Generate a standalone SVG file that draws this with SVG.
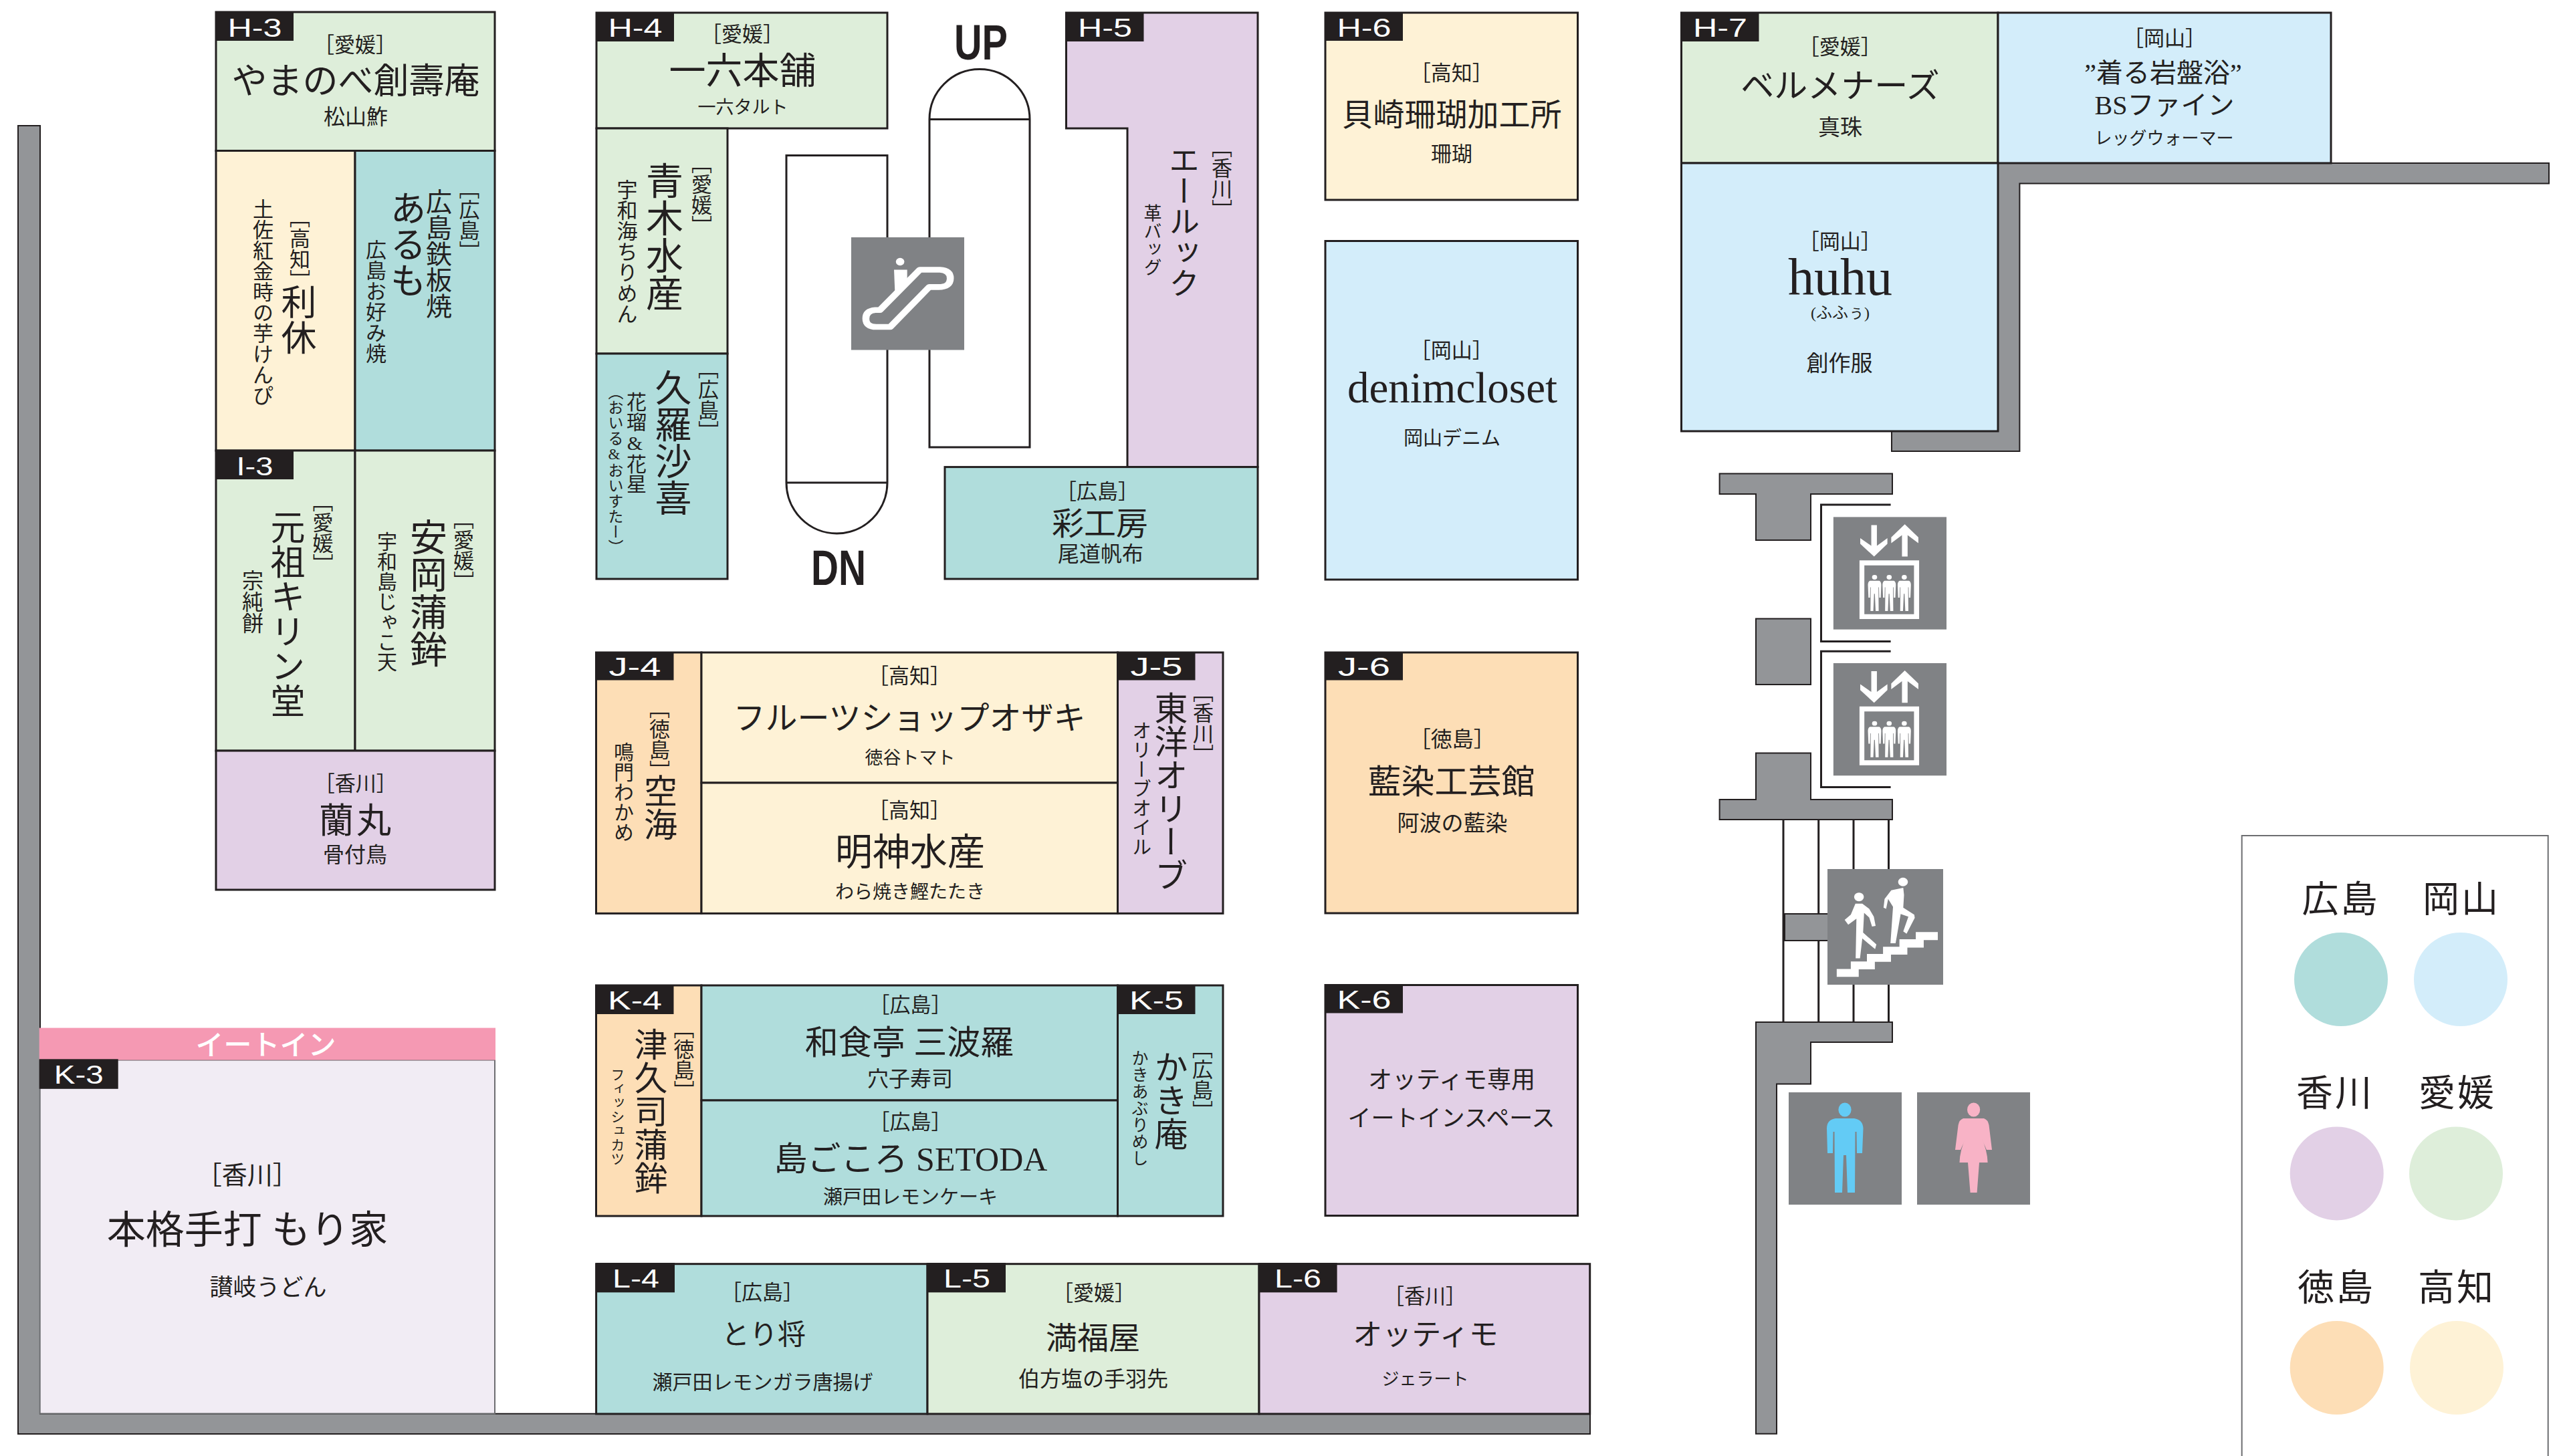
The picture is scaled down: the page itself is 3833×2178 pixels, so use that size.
<svg xmlns="http://www.w3.org/2000/svg" width="3833" height="2178" viewBox="0 0 3833 2178">
<style>
text{font-family:"Liberation Serif","Noto Sans CJK JP",serif;text-anchor:middle;fill:#231f20}
.v{writing-mode:vertical-rl}
.u{text-orientation:upright}
.lab{font-family:"Liberation Sans",Arial,sans-serif;font-size:38px;fill:#fff}
.hd{font-family:"Liberation Sans",Arial,sans-serif;font-weight:700;font-size:74px}
.eat{font-family:"Noto Sans CJK JP",sans-serif;font-weight:500;font-size:42px;fill:#fff}
.leg{font-size:55px;letter-spacing:3px}
.lb{fill:#231f20}
.b{stroke:#231f20;stroke-width:3}
.w{fill:#939598;stroke:#231f20;stroke-width:2}
.e{fill:#fff;stroke:#231f20;stroke-width:3}
.sg{fill:#808285}
.wh{fill:#fff}
.hi{fill:#b0dddc}.ok{fill:#d3edfa}.ka{fill:#e2d0e6}.eh{fill:#deeeda}.to{fill:#fddeb6}.ko{fill:#fef2d6}
.s21{font-size:21px}.s23{font-size:23px}.s24{font-size:24px}.s25{font-size:25px}.s26{font-size:26px}.s27{font-size:27px}.s28{font-size:28px}.s29{font-size:29px}.s30{font-size:30px}.s31{font-size:31px}.s32{font-size:32px}.s33{font-size:33px}.s35{font-size:35px}.s36{font-size:36px}.s38{font-size:38px}.s39{font-size:39px}.s40{font-size:40px}.s42{font-size:42px}.s44{font-size:44px}.s46{font-size:46px}.s47{font-size:47px}.s48{font-size:48px}.s50{font-size:50px}.s52{font-size:52px}.s53{font-size:53px}.s54{font-size:54px}.s55{font-size:55px}.s56{font-size:56px}.s58{font-size:58px}.s65{font-size:65px}.s78{font-size:78px}
</style>
<defs>
<path id="p" class="wh" d="M775 381H811Q819 383 819 392L817 425H811L810 398H808L809 460H797L794 415H791L788 460H777L778 398H776L775 425H769L767 392Q767 383 775 381ZM783 372a10 6 0 1 0 20 0a10 6 0 1 0 -20 0Z"/>
<g id="elev" transform="translate(2500 650) scale(.3827 .574)">
<rect class="sg" x="632" y="215" width="442" height="293"/>
<polygon class="wh" points="780,236 802,236 802,290 843,270 843,285 791,318 737,285 737,270 780,290"/>
<polygon class="wh" points="911,234 964,268 964,283 922,262 922,318 900,318 900,262 858,283 858,268"/>
<path class="wh" fill-rule="evenodd" d="M734 328H967V481H734ZM753 341V468H947V341Z"/>
<use href="#p"/><use href="#p" x="57"/><use href="#p" x="116"/>
</g>
</defs>
<rect width="3833" height="2178" fill="#fff"/>

<g id="walls">
<path class="w" d="M27 188H60V2114.8H2378V2145H27Z"/>
<path class="w" d="M2988 244H3812V274.5H3020.4V675H2829V645H2988Z"/>
<path class="w" d="M2571.6 708.5H2830V739H2708V808H2626V739H2571.6Z"/>
<rect class="w" x="2626" y="925.5" width="82" height="98.5"/>
<path class="w" d="M2626 1126.5H2708V1196H2830V1226H2571.6V1196H2626Z"/>
<path class="w" d="M2626 1529H2830V1559H2708V1621.6H2657V2144.7H2626Z"/>
</g>

<g id="connectors" fill="none" stroke="#231f20" stroke-width="3">
<path d="M2827.6 755H2723.5V959.4H2827.6"/>
<path d="M2827.6 974.3H2723.5V1177.5H2827.6"/>
<path d="M2667 1226V1529M2719.7 1226V1529M2772 1226V1529M2824.5 1226V1529"/>
</g>

<g id="escalators">
<path class="e" d="M1390 178.5A75 75 0 0 1 1540 178.5V669H1390ZM1390 178.5H1540"/>
<path class="e" d="M1176 232.5H1327V722A75.5 76 0 0 1 1176 722ZM1176 722H1327"/>
<text class="hd" x="1467" y="89" textLength="80" lengthAdjust="spacingAndGlyphs">UP</text>
<text class="hd" x="1254" y="875" textLength="82" lengthAdjust="spacingAndGlyphs">DN</text>
<rect class="sg" x="1273" y="355" width="169" height="168.5"/>
<g transform="translate(860 0) scale(.7015 .574)">
<path fill="none" stroke="#fff" stroke-width="15" stroke-linejoin="round" d="M650 808H640Q620 810 620 830Q620 852 642 852H672L755 748H775Q800 748 800 725Q800 705 778 703H735Z"/>
<ellipse class="wh" cx="693" cy="682" rx="9" ry="10"/>
<polygon class="wh" points="680,703 708,703 708,735 692,762 682,762"/>
</g>
</g>

<g id="H-3">
<rect class="eh b" x="323" y="18" width="417" height="207.5"/>
<rect class="lb" x="323" y="18" width="116" height="43"/>
<text class="lab" x="381" y="54.5" textLength="81" lengthAdjust="spacingAndGlyphs">H-3</text>
<text class="s31" x="531" y="78">［愛媛］</text>
<text class="s53" x="532" y="140">やまのべ創壽庵</text>
<text class="s32" x="532" y="186">松山鮓</text>
</g>
<g id="rikyu">
<rect class="ko b" x="323" y="225.5" width="208" height="448.5"/>
<text class="s31 v" x="390.5" y="452">土佐紅金時の芋けんぴ</text>
<text class="s31 v" x="445.5" y="371.5">［高知］</text>
<text class="s53 v" x="442" y="478">利休</text>
</g>
<g id="arumo">
<rect class="hi b" x="531" y="225.5" width="209" height="448.5"/>
<text class="s54 v" x="605" y="365">あるも</text>
<text class="s39 v" x="653" y="379">広島鉄板焼</text>
<text class="s31 v" x="699" y="329">［広島］</text>
<text class="s31 v" x="559.5" y="451">広島お好み焼</text>
</g>
<g id="I-3">
<rect class="eh b" x="323" y="674" width="208" height="449"/>
<rect class="lb" x="323" y="675" width="116" height="42"/>
<text class="lab" x="381" y="711" textLength="55" lengthAdjust="spacingAndGlyphs">I-3</text>
<text class="s31 v" x="480" y="797">［愛媛］</text>
<text class="s52 v" x="425.5" y="918.5">元祖キリン堂</text>
<text class="s32 v" x="375" y="900">宗純餅</text>
</g>
<g id="yasuoka">
<rect class="eh b" x="531" y="674" width="209" height="449"/>
<text class="s31 v" x="690.5" y="823">［愛媛］</text>
<text class="s56 v" x="635.5" y="887">安岡蒲鉾</text>
<text class="s30 v" x="576.5" y="900">宇和島じゃこ天</text>
</g>
<g id="ranmaru">
<rect class="ka b" x="323" y="1123" width="417" height="208"/>
<text class="s31" x="531.7" y="1183">［香川］</text>
<text class="s52" x="533" y="1246" letter-spacing="4">蘭丸</text>
<text class="s32" x="531" y="1290">骨付鳥</text>
</g>

<g id="H-4">
<rect class="eh b" x="892" y="19" width="435" height="173"/>
<rect class="lb" x="892" y="19" width="116" height="43"/>
<text class="lab" x="950" y="55" textLength="81" lengthAdjust="spacingAndGlyphs">H-4</text>
<text class="s31" x="1110" y="62">［愛媛］</text>
<text class="s55" x="1110.5" y="125">一六本舗</text>
<text class="s27" x="1111" y="170">一六タルト</text>
</g>
<g id="aoki">
<rect class="eh b" x="892" y="192" width="196" height="337"/>
<text class="s56 v" x="988.5" y="353.5">青木水産</text>
<text class="s31 v" x="1046.5" y="291">［愛媛］</text>
<text class="s31 v" x="935" y="376">宇和海ちりめん</text>
</g>
<g id="kurasaki">
<rect class="hi b" x="892" y="529" width="196" height="337"/>
<text class="s55 v" x="1001.5" y="661.5">久羅沙喜</text>
<text class="s31 v" x="1056.5" y="598">［広島］</text>
<text class="s30 v u" x="949.5" y="662">花瑠&amp;花星</text>
<text class="s23 v u" x="918.5" y="702">（おいる&amp;おいすたー）</text>
</g>
<g id="H-5">
<path class="ka b" d="M1594.5 19H1881V698.6H1686V192H1594.5Z"/>
<rect class="lb" x="1594.5" y="19" width="116" height="43"/>
<text class="lab" x="1652.5" y="55" textLength="81" lengthAdjust="spacingAndGlyphs">H-5</text>
<text class="s46 v" x="1766.5" y="331">エールック</text>
<text class="s31 v" x="1824.5" y="267">［香川］</text>
<text class="s27 v" x="1721.5" y="359">革バッグ</text>
</g>
<g id="saikobo">
<rect class="hi b" x="1413" y="698.6" width="468" height="167.4"/>
<text class="s31" x="1641" y="746">［広島］</text>
<text class="s48" x="1645" y="800">彩工房</text>
<text class="s32" x="1646" y="840">尾道帆布</text>
</g>
<g id="H-6">
<rect class="ko b" x="1982" y="19" width="377.5" height="280"/>
<rect class="lb" x="1982" y="18.5" width="116" height="42.5"/>
<text class="lab" x="2040" y="54.5" textLength="81" lengthAdjust="spacingAndGlyphs">H-6</text>
<text class="s31" x="2170.7" y="120">［高知］</text>
<text class="s47" x="2171" y="188">貝崎珊瑚加工所</text>
<text class="s31" x="2171" y="241">珊瑚</text>
</g>
<g id="denimcloset">
<rect class="ok b" x="1982" y="360.5" width="377.5" height="506.5"/>
<text class="s31" x="2170.7" y="535">［岡山］</text>
<text class="s65" x="2172" y="602">denimcloset</text>
<text class="s29" x="2171.6" y="666">岡山デニム</text>
</g>
<g id="H-7">
<rect class="eh b" x="2514.5" y="19" width="473.5" height="225"/>
<rect class="lb" x="2514.5" y="19" width="116" height="43"/>
<text class="lab" x="2572.5" y="55" textLength="81" lengthAdjust="spacingAndGlyphs">H-7</text>
<text class="s31" x="2751.7" y="81">［愛媛］</text>
<text class="s50" x="2752" y="146">ベルメナーズ</text>
<text class="s33" x="2752" y="202">真珠</text>
</g>
<g id="bsfine">
<rect class="ok b" x="2988" y="19" width="498" height="225"/>
<text class="s31" x="3237" y="68">［岡山］</text>
<text class="s40" x="3235" y="123">”着る岩盤浴”</text>
<text class="s40" x="3237" y="171">BSファイン</text>
<text class="s26" x="3236.5" y="216">レッグウォーマー</text>
</g>
<g id="huhu">
<rect class="ok b" x="2514.5" y="244" width="473.5" height="401"/>
<text class="s31" x="2751.7" y="372">［岡山］</text>
<text class="s78" x="2752" y="441">huhu</text>
<text class="s24" x="2752" y="476">(ふふぅ)</text>
<text class="s33" x="2751" y="555">創作服</text>
</g>

<g id="J-4">
<rect class="to b" x="891.5" y="976" width="157.5" height="390.4"/>
<rect class="lb" x="891.5" y="976" width="116" height="41.5"/>
<text class="lab" x="949.5" y="1011" textLength="78" lengthAdjust="spacingAndGlyphs">J-4</text>
<text class="s31 v" x="983.5" y="1106">［徳島］</text>
<text class="s50 v" x="983" y="1208">空海</text>
<text class="s30 v" x="930.5" y="1185">鳴門わかめ</text>
</g>
<g id="ozaki">
<rect class="ko b" x="1049" y="976" width="622.5" height="195"/>
<text class="s31" x="1360" y="1022">［高知］</text>
<text class="s48" x="1360" y="1091">フルーツショップオザキ</text>
<text class="s27" x="1361" y="1143">徳谷トマト</text>
</g>
<g id="myojin">
<rect class="ko b" x="1049" y="1171" width="622.5" height="195.4"/>
<text class="s31" x="1360" y="1223">［高知］</text>
<text class="s56" x="1361" y="1294">明神水産</text>
<text class="s28" x="1361" y="1344">わら焼き鰹たたき</text>
</g>
<g id="J-5">
<rect class="ka b" x="1671.5" y="976" width="157.5" height="390.4"/>
<rect class="lb" x="1671.5" y="976" width="116" height="41.5"/>
<text class="lab" x="1729.5" y="1011" textLength="78" lengthAdjust="spacingAndGlyphs">J-5</text>
<text class="s50 v" x="1746.5" y="1184">東洋オリーブ</text>
<text class="s31 v" x="1796.5" y="1082">［香川］</text>
<text class="s29 v" x="1704.5" y="1180">オリーブオイル</text>
</g>
<g id="J-6">
<rect class="to b" x="1982" y="976" width="377.5" height="390"/>
<rect class="lb" x="1982" y="976" width="116" height="41.5"/>
<text class="lab" x="2040" y="1011" textLength="78" lengthAdjust="spacingAndGlyphs">J-6</text>
<text class="s32" x="2171.7" y="1117">［徳島］</text>
<text class="s50" x="2170.5" y="1187">藍染工芸館</text>
<text class="s33" x="2172" y="1243">阿波の藍染</text>
</g>

<g id="K-4">
<rect class="to b" x="891.5" y="1474" width="157.5" height="345"/>
<rect class="lb" x="891.5" y="1474" width="116" height="43"/>
<text class="lab" x="949.5" y="1510" textLength="81" lengthAdjust="spacingAndGlyphs">K-4</text>
<text class="s31 v" x="1020" y="1585">［徳島］</text>
<text class="s50 v" x="968.5" y="1662">津久司蒲鉾</text>
<text class="s21 v" x="921.7" y="1670">フィッシュカツ</text>
</g>
<g id="sanbara">
<rect class="hi b" x="1049" y="1474" width="622.5" height="172"/>
<text class="s31" x="1361.5" y="1514">［広島］</text>
<text class="s50" x="1360" y="1577">和食亭 三波羅</text>
<text class="s32" x="1361" y="1625">穴子寿司</text>
</g>
<g id="setoda">
<rect class="hi b" x="1049" y="1646" width="622.5" height="173"/>
<text class="s31" x="1361.5" y="1689">［広島］</text>
<text class="s50" x="1362" y="1751">島ごころ SETODA</text>
<text class="s29" x="1361.5" y="1801">瀬戸田レモンケーキ</text>
</g>
<g id="K-5">
<rect class="hi b" x="1671.5" y="1474" width="157.5" height="345"/>
<rect class="lb" x="1671.5" y="1474" width="116" height="43"/>
<text class="lab" x="1729.5" y="1510" textLength="81" lengthAdjust="spacingAndGlyphs">K-5</text>
<text class="s50 v" x="1746.5" y="1646">かき庵</text>
<text class="s31 v" x="1795.5" y="1615">［広島］</text>
<text class="s25 v" x="1702.5" y="1657">かきあぶりめし</text>
</g>
<g id="K-6">
<rect class="ka b" x="1982" y="1473.5" width="377.5" height="345"/>
<rect class="lb" x="1982" y="1473.5" width="116" height="42"/>
<text class="lab" x="2040" y="1509" textLength="81" lengthAdjust="spacingAndGlyphs">K-6</text>
<text class="s36" x="2171" y="1628">オッティモ専用</text>
<text class="s35" x="2170.5" y="1685">イートインスペース</text>
</g>
<g id="K-3">
<rect x="59.7" y="1585.6" width="680.3" height="529" fill="#f1ecf4" stroke="#6d6e71" stroke-width="2"/>
<rect x="58.7" y="1537.6" width="682.3" height="48" fill="#f599b3"/>
<text class="eat" x="397.5" y="1578">イートイン</text>
<rect class="lb" x="58.7" y="1584.3" width="118" height="44.5"/>
<text class="lab" x="117.7" y="1621" textLength="74" lengthAdjust="spacingAndGlyphs">K-3</text>
<text class="s38" x="369.7" y="1771">［香川］</text>
<text class="s58" x="370" y="1860">本格手打 もり家</text>
<text class="s35" x="401" y="1938">讃岐うどん</text>
</g>

<g id="L-4">
<rect class="hi b" x="891.6" y="1890.7" width="495.4" height="224.3"/>
<rect class="lb" x="891.6" y="1889" width="117.4" height="44.3"/>
<text class="lab" x="951" y="1926" textLength="70" lengthAdjust="spacingAndGlyphs">L-4</text>
<text class="s31" x="1140" y="1944">［広島］</text>
<text class="s42" x="1142" y="2011">とり将</text>
<text class="s30" x="1140.5" y="2078">瀬戸田レモンガラ唐揚げ</text>
</g>
<g id="L-5">
<rect class="eh b" x="1387" y="1890.7" width="496" height="224.3"/>
<rect class="lb" x="1387" y="1889" width="117" height="44.3"/>
<text class="lab" x="1446" y="1926" textLength="70" lengthAdjust="spacingAndGlyphs">L-5</text>
<text class="s31" x="1636" y="1945">［愛媛］</text>
<text class="s47" x="1634.5" y="2018">満福屋</text>
<text class="s32" x="1635" y="2074">伯方塩の手羽先</text>
</g>
<g id="L-6">
<rect class="ka b" x="1883" y="1890.7" width="494.7" height="224.3"/>
<rect class="lb" x="1883" y="1889" width="116.6" height="44.3"/>
<text class="lab" x="1941" y="1926" textLength="70" lengthAdjust="spacingAndGlyphs">L-6</text>
<text class="s31" x="2131" y="1950">［香川］</text>
<text class="s44" x="2132" y="2012">オッティモ</text>
<text class="s26" x="2131.5" y="2072">ジェラート</text>
</g>

<g id="elevators">
<use href="#elev"/>
<use href="#elev" y="218.6"/>
</g>

<g id="stairs">
<rect class="w" x="2669" y="1367" width="70" height="40"/>
<rect class="sg" x="2733" y="1300" width="173" height="173"/>
<g transform="translate(2500 1250) scale(.3827 .5917)">
<path class="wh" d="M645 337H700V318H763V299H826V281H890V262H954V244H1040V264H985V283H921V301H857V319H794V338H731V357H645Z"/>
<ellipse class="wh" cx="732" cy="155" rx="19" ry="11"/>
<polygon class="wh" points="718,172 745,172 772,185 790,205 797,228 783,230 772,207 752,195 748,245 800,275 795,287 745,260 736,310 719,310 722,210 690,225 676,213 700,200"/>
<ellipse class="wh" cx="904" cy="117" rx="19" ry="11"/>
<polygon class="wh" points="858,138 905,132 908,150 905,182 948,200 950,208 918,248 905,242 925,205 895,198 875,272 855,272 865,180 846,160 838,185 828,182 832,160"/>
</g>
</g>

<g id="toilets">
<rect class="sg" x="2675" y="1634" width="169" height="168"/>
<ellipse cx="2759" cy="1660" rx="9.6" ry="10.6" fill="#63cbf5"/>
<path fill="#63cbf5" d="M2745 1673H2773Q2786 1675 2786.5 1688L2785 1725H2777L2776.5 1693H2774.5L2774 1784H2763L2761 1728H2757L2755 1784H2744L2743.5 1693H2741.5L2741 1725H2733L2732 1688Q2732 1675 2745 1673Z"/>
<rect class="sg" x="2867" y="1634" width="169" height="168"/>
<ellipse cx="2951.6" cy="1660" rx="9.6" ry="10.6" fill="#f8b3c6"/>
<path fill="#f8b3c6" d="M2936 1673H2967Q2973 1675 2974.5 1683L2979 1720H2971L2963 1702Q2972 1720 2972.6 1739H2960L2956.6 1784H2946.6L2943 1739H2930.5Q2931 1720 2940 1702L2932 1720H2924L2928.6 1683Q2930 1675 2936 1673Z"/>
</g>

<g id="legend">
<rect x="3352.7" y="1250" width="458" height="940" fill="#fff" stroke="#6d6e71" stroke-width="2"/>
<text class="leg" x="3500.5" y="1364">広島</text>
<circle class="hi" cx="3501" cy="1465" r="70"/>
<text class="leg" x="3681" y="1364">岡山</text>
<circle class="ok" cx="3680" cy="1465" r="70"/>
<text class="leg" x="3492" y="1654">香川</text>
<circle class="ka" cx="3494.7" cy="1755.4" r="70"/>
<text class="leg" x="3675" y="1654">愛媛</text>
<circle class="eh" cx="3673" cy="1755.4" r="70"/>
<text class="leg" x="3494" y="1945">徳島</text>
<circle class="to" cx="3494.7" cy="2046" r="70"/>
<text class="leg" x="3674" y="1945">高知</text>
<circle class="ko" cx="3674" cy="2046" r="70"/>
</g>
</svg>
